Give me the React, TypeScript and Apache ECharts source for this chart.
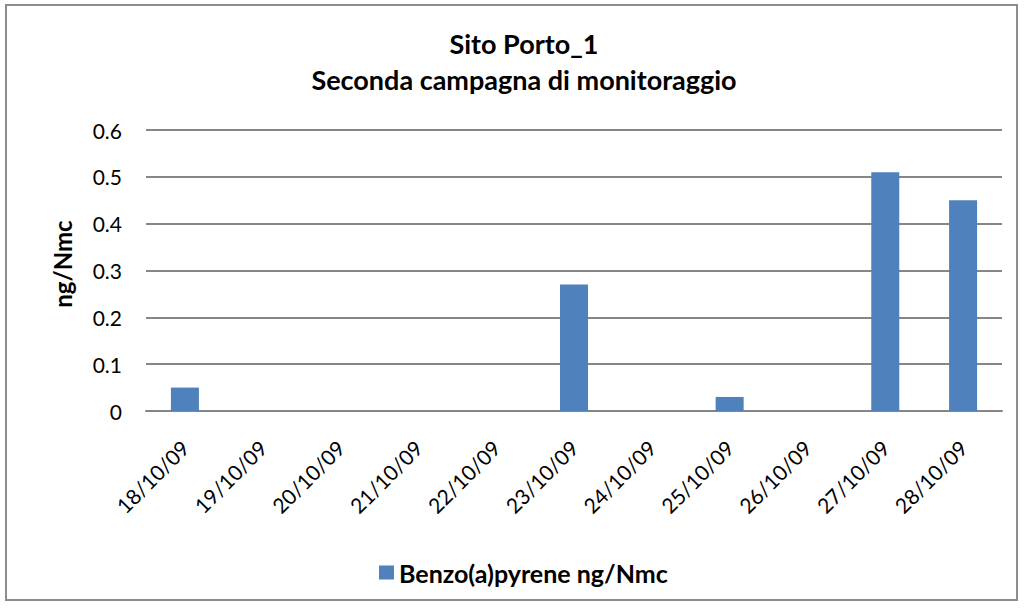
import React, { useEffect, useRef } from "react";
import * as echarts from "echarts";

const categories = [
  "18/10/09", "19/10/09", "20/10/09", "21/10/09", "22/10/09", "23/10/09",
  "24/10/09", "25/10/09", "26/10/09", "27/10/09", "28/10/09",
];
const values = [0.05, 0, 0, 0, 0, 0.27, 0, 0.03, 0, 0.51, 0.45];
const seriesName = "Benzo(a)pyrene ng/Nmc";
const titleLines = ["Sito Porto_1", "Seconda campagna di monitoraggio"];
const yAxisName = "ng/Nmc";

const FONT = "Lato, 'Noto Sans', sans-serif";

export default function App() {
  const ref = useRef<HTMLDivElement>(null);
  useEffect(() => {
    if (!ref.current) return;
    const chart = echarts.init(ref.current, null, { renderer: "svg" });
    chart.setOption({
      animation: false,
      backgroundColor: "#ffffff",
      textStyle: { fontFamily: FONT },
      title: {
        text: titleLines.join("\n"),
        left: 519,
        top: 20,
        textAlign: "center",
        textStyle: {
          fontFamily: FONT,
          fontSize: 27,
          fontWeight: "bold",
          color: "#000",
          lineHeight: 36,
        },
      },
      graphic: [
        {
          type: "rect",
          shape: { x: 6, y: 5, width: 1011, height: 595 },
          style: { fill: "none", stroke: "#8c8c8c", lineWidth: 2 },
          silent: true,
        },
        {
          type: "text",
          x: 62,
          y: 264,
          rotation: Math.PI / 2,
          style: {
            text: yAxisName,
            fontFamily: FONT,
            fontSize: 24,
            fontWeight: "bold",
            fill: "#000",
            align: "center",
            verticalAlign: "middle",
          },
        },
      ],
      legend: {
        top: 555,
        left: 374,
        orient: "horizontal",
        itemWidth: 15,
        itemHeight: 14,
        itemGap: 6,
        textStyle: { fontFamily: FONT, fontSize: 25, fontWeight: "bold", color: "#000" },
        data: [{ name: seriesName, icon: "rect" }],
      },
      grid: { left: 146, right: 24, top: 130, bottom: 198, containLabel: false },
      xAxis: {
        type: "category",
        data: categories,
        axisLine: { show: true, lineStyle: { color: "#868686", width: 2 } },
        axisTick: { show: false },
        axisLabel: {
          rotate: 45,
          interval: 0,
          margin: 33,
          fontFamily: FONT,
          fontSize: 21,
          color: "#000",
        },
      },
      yAxis: {
        type: "value",
        min: 0,
        max: 0.6,
        interval: 0.1,
        axisLine: { show: false },
        axisTick: { show: false },
        axisLabel: { margin: 24, fontFamily: FONT, fontSize: 21, color: "#000" },
        splitLine: { lineStyle: { color: "#868686", width: 2 } },
      },
      series: [
        {
          name: seriesName,
          type: "bar",
          data: values,
          barWidth: "36%",
          itemStyle: { color: "#4F81BD" },
        },
      ],
    });
    return () => chart.dispose();
  }, []);
  return (
    <div
      ref={ref}
      style={{ position: "fixed", left: 0, top: 0, width: 1026, height: 609 }}
    />
  );
}
